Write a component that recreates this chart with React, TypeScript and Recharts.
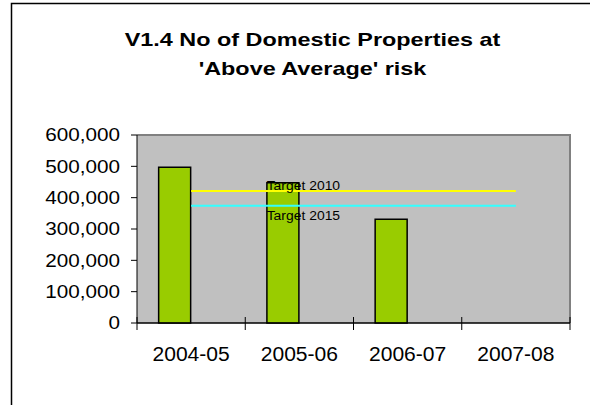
import React from 'react';
import * as R from 'recharts';
import { ComposedChart, Bar, Line, XAxis, YAxis, CartesianGrid, LabelList } from 'recharts';

const categories = ['2004-05', '2005-06', '2006-07', '2007-08'];
const propertiesAtRisk = [497000, 447500, 331500, null];
const emptySeries = [null, null, null, null];
const target2010 = [421000, 421000, 421000, 421000];
const target2015 = [374000, 374000, 374000, 374000];
const yTicks = [0, 100000, 200000, 300000, 400000, 500000, 600000];
const titleLines = ['V1.4 No of Domestic Properties at', "'Above Average' risk"];
const targetNames = ['Target 2010', 'Target 2015'];

const data = categories.map((c, i) => ({
  cat: c,
  props: propertiesAtRisk[i],
  other: emptySeries[i],
  t2010: target2010[i],
  t2015: target2015[i],
}));

const FONT = '"Liberation Sans", Arial, Helvetica, sans-serif';

function SText(p: any) {
  const { x, y, sx, anchor, size, weight, dy, children } = p;
  return (
    <g transform={`translate(${x},${y}) scale(${sx},1)`}>
      <text x={0} y={0} dy={dy} textAnchor={anchor} fontSize={size} fontWeight={weight || 'normal'} fontFamily={FONT} fill="#000">
        {children}
      </text>
    </g>
  );
}

const YTick = (props: any) => {
  const { x, y, payload } = props;
  return (
    <SText x={x} y={y} sx={1.17} anchor="end" size={17.7} dy="0.355em">
      {Number(payload.value).toLocaleString('en-US')}
    </SText>
  );
};

const XTick = (props: any) => {
  const { x, y, payload } = props;
  return (
    <SText x={x} y={y} sx={1.08} anchor="middle" size={19.5} dy="0.71em">
      {payload.value}
    </SText>
  );
};

const makeTargetLabel = (name: string, dy: number) => (props: any) => {
  const { x, y, index } = props;
  if (index !== 1) return null;
  return (
    <SText x={x + 4} y={y + dy} sx={1.16} anchor="middle" size={12}>
      {name}
    </SText>
  );
};

const usePA: any = (R as any).usePlotArea;
const useOff: any = (R as any).useOffset;
const useCW: any = (R as any).useChartWidth;
const useCH: any = (R as any).useChartHeight;

function usePlotRect() {
  if (usePA) {
    const a = usePA();
    if (a) return { x: a.x, y: a.y, w: a.width, h: a.height };
    return null;
  }
  if (useOff && useCW && useCH) {
    const o = useOff();
    const w = useCW();
    const h = useCH();
    if (!o || !w || !h) return null;
    return { x: o.left, y: o.top, w: w - o.left - o.right, h: h - o.top - o.bottom };
  }
  return null;
}

function PlotFrame() {
  const r = usePlotRect();
  if (!r) return null;
  const n = categories.length;
  const bottom = r.y + r.h;
  return (
    <g>
      <polyline
        points={`${r.x},${r.y} ${r.x + r.w},${r.y} ${r.x + r.w},${bottom}`}
        fill="none"
        stroke="#808080"
        strokeWidth={2}
      />
      <line x1={r.x} x2={r.x + r.w} y1={bottom} y2={bottom} stroke="#000" strokeWidth={1} />
      {categories.concat(['']).map((_, i) => {
        const x = r.x + (r.w * i) / n;
        return <line key={i} x1={x} x2={x} y1={bottom - 6} y2={bottom + 7} stroke="#000" strokeWidth={1} />;
      })}
    </g>
  );
}

export default function App() {
  return (
    <div style={{ position: 'absolute', left: 0, top: 0, width: 590, height: 405, overflow: 'hidden', background: '#fff' }}>
      <svg width={590} height={405} style={{ position: 'absolute', left: 0, top: 0 }}>
        <rect x={11.5} y={3.5} width={700} height={600} fill="#fff" stroke="#000" strokeWidth={1.5} />
        {titleLines.map((t, i) => (
          <SText key={i} x={312.5} y={45.7 + i * 29.5} sx={1.3} anchor="middle" size={18} weight="bold">
            {t}
          </SText>
        ))}
      </svg>
      <div style={{ position: 'absolute', left: 0, top: 0 }}>
        <ComposedChart
          width={590}
          height={405}
          data={data}
          margin={{ top: 135, right: 20, bottom: 42, left: 0 }}
          barCategoryGap="20%"
          barGap={0}
        >
          <CartesianGrid horizontal={false} vertical={false} fill="#C0C0C0" />
          <XAxis
            dataKey="cat"
            height={40}
            tickSize={0}
            tickMargin={24}
            tickLine={false}
            axisLine={{ stroke: '#000', strokeWidth: 1 }}
            tick={<XTick />}
            interval={0}
          />
          <YAxis
            width={137}
            domain={[0, 600000]}
            ticks={yTicks}
            tickSize={6}
            tickMargin={11}
            tickLine={{ stroke: '#000' }}
            axisLine={{ stroke: '#000' }}
            tick={<YTick />}
            interval={0}
          />
          <Bar dataKey="props" fill="#99CC00" stroke="#000" strokeWidth={1.5} isAnimationActive={false} />
          <Bar dataKey="other" fill="none" isAnimationActive={false} />
          <Line dataKey="t2010" stroke="#FFFF00" strokeWidth={2} dot={false} isAnimationActive={false}>
            <LabelList dataKey="t2010" content={makeTargetLabel(targetNames[0], -1)} />
          </Line>
          <Line dataKey="t2015" stroke="#33FFFF" strokeWidth={2} dot={false} isAnimationActive={false}>
            <LabelList dataKey="t2015" content={makeTargetLabel(targetNames[1], 14.5)} />
          </Line>
          <PlotFrame />
        </ComposedChart>
      </div>
    </div>
  );
}
